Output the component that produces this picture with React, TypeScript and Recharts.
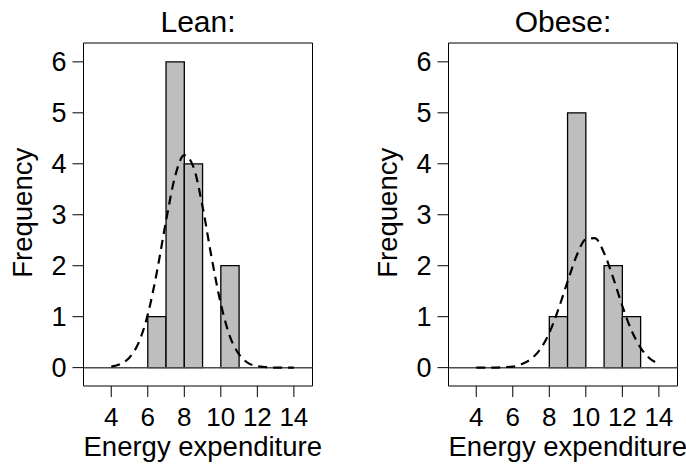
import React from "react";
import { ComposedChart, Line, XAxis, YAxis, ReferenceArea, ReferenceLine } from "recharts";

// histogram bins (left edge, width 1) and counts
const leanBinStarts = [6, 7, 8, 10];
const leanCounts = [1, 6, 4, 2];
const obeseBinStarts = [8, 9, 11, 12];
const obeseCounts = [1, 5, 2, 1];

// dashed curves
const curveX = [4, 4.5, 5, 5.5, 6, 6.5, 7, 7.5, 8, 8.5, 9, 9.5, 10, 10.5, 11, 11.5, 12, 12.5, 13, 13.5, 14];
const leanCurve = [0.02, 0.07, 0.2, 0.49, 1.04, 1.88, 2.88, 3.76, 4.17, 3.94, 3.16, 2.15, 1.25, 0.61, 0.26, 0.09, 0.03, 0.01, 0, 0, 0];
const obeseCurve = [0, 0, 0, 0.01, 0.02, 0.07, 0.17, 0.36, 0.68, 1.15, 1.69, 2.2, 2.52, 2.54, 2.25, 1.76, 1.21, 0.73, 0.39, 0.18, 0.08];

const xTicks = [4, 6, 8, 10, 12, 14];
const yTicks = [0, 1, 2, 3, 4, 5, 6];

const X_DOMAIN: [number, number] = [2.48, 15.02];
const Y_DOMAIN: [number, number] = [-0.36, 6.37];
const FONT = "'Liberation Sans', Arial, sans-serif";

type PanelProps = {
  title: string;
  left: number;
  starts: number[];
  counts: number[];
  curve: number[];
};

const Panel = ({ title, left, starts, counts, curve }: PanelProps) => {
  const curveData = curveX.map((x, i) => ({ x, y: curve[i] }));

  return (
    <div style={{ position: "absolute", left, top: 0, width: 321, height: 464 }}>
      <ComposedChart
        width={321}
        height={464}
        data={curveData}
        margin={{ top: 43, right: 8.5, bottom: 48, left: 0 }}
        style={{ fontFamily: FONT }}
      >
        <XAxis
          dataKey="x"
          type="number"
          domain={X_DOMAIN}
          ticks={xTicks}
          allowDataOverflow
          axisLine={false}
          tickSize={11}
          tickMargin={11}
          height={30}
          tickLine={{ stroke: "#000" }}
          tick={{ fill: "#000", fontSize: 26 }}
        />
        <YAxis
          type="number"
          domain={Y_DOMAIN}
          ticks={yTicks}
          allowDataOverflow
          axisLine={false}
          width={83.5}
          tickSize={11}
          tickMargin={6}
          tickLine={{ stroke: "#000" }}
          tick={{ fill: "#000", fontSize: 27 }}
        />
        <ReferenceArea
          x1={X_DOMAIN[0]}
          x2={X_DOMAIN[1]}
          y1={Y_DOMAIN[0]}
          y2={Y_DOMAIN[1]}
          fill="none"
          stroke="#000"
          strokeWidth={1}
        />
        {starts.map((s, i) => (
          <ReferenceArea
            key={i}
            x1={s}
            x2={s + 1}
            y1={0}
            y2={counts[i]}
            fill="#bebebe"
            fillOpacity={1}
            stroke="#000"
            strokeWidth={1.3}
          />
        ))}
        <ReferenceLine y={0} stroke="#4d4d4d" strokeWidth={1.5} />
        <Line
          dataKey="y"
          type="monotone"
          stroke="#000"
          strokeWidth={2.2}
          strokeDasharray="9 6"
          dot={false}
          activeDot={false}
          isAnimationActive={false}
        />
      </ComposedChart>
      <div
        style={{
          position: "absolute",
          left: 83.5,
          width: 229,
          top: 6.6,
          height: 30,
          lineHeight: "30px",
          textAlign: "center",
          fontFamily: FONT,
          fontSize: 30,
          whiteSpace: "nowrap",
        }}
      >
        {title}
      </div>
      <div
        style={{
          position: "absolute",
          left: 83.5,
          width: 229,
          top: 446.5 - 13.75,
          height: 27.5,
          lineHeight: "27.5px",
          textAlign: "center",
          fontFamily: FONT,
          fontSize: 27.5,
          whiteSpace: "nowrap",
        }}
      >
        Energy expenditure
      </div>
      <div
        style={{
          position: "absolute",
          left: 22.8 - 100,
          top: 213 - 13.75,
          width: 200,
          height: 27.5,
          lineHeight: "27.5px",
          textAlign: "center",
          fontFamily: FONT,
          fontSize: 27.5,
          whiteSpace: "nowrap",
          transform: "rotate(-90deg)",
        }}
      >
        Frequency
      </div>
    </div>
  );
};

const App = () => {
  return (
    <div
      style={{
        position: "fixed",
        left: 0,
        top: 0,
        width: 686,
        height: 464,
        background: "#fff",
        overflow: "hidden",
      }}
    >
      <Panel title="Lean:" left={0} starts={leanBinStarts} counts={leanCounts} curve={leanCurve} />
      <Panel title="Obese:" left={365} starts={obeseBinStarts} counts={obeseCounts} curve={obeseCurve} />
    </div>
  );
};

export default App;
